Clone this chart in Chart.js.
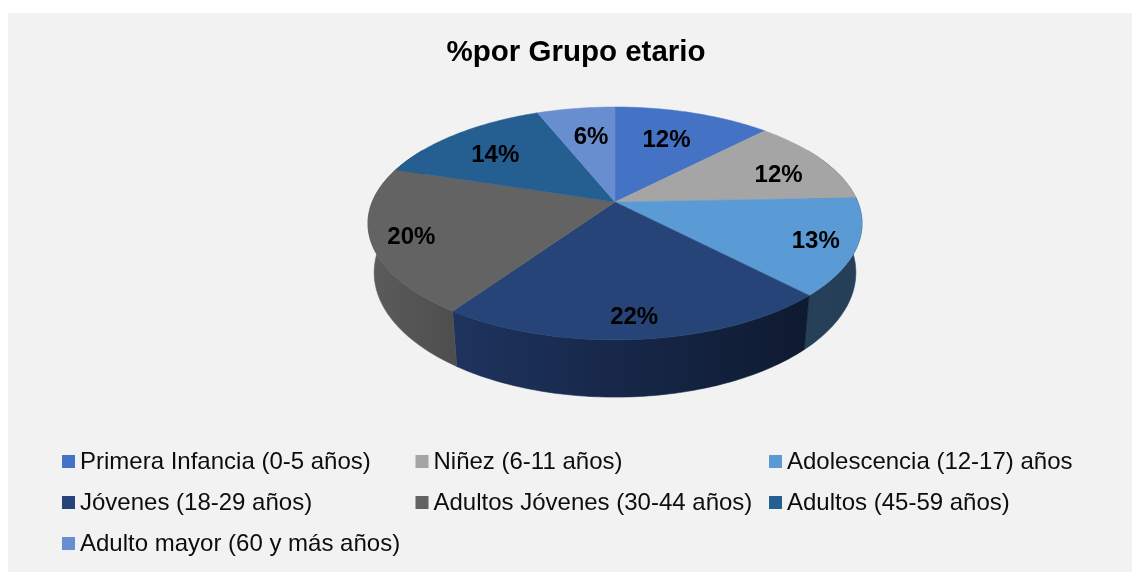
<!DOCTYPE html>
<html><head><meta charset="utf-8">
<style>html,body{margin:0;padding:0;background:#fff;overflow:hidden}canvas{display:block}</style>
<script src="https://cdn.jsdelivr.net/npm/chart.js@4"></script>
</head><body>
<canvas id="c" width="1132" height="572"></canvas>
<script>
const categories = ["Primera Infancia (0-5 años)","Niñez (6-11 años)","Adolescencia (12-17) años","Jóvenes (18-29 años)","Adultos Jóvenes (30-44 años)","Adultos (45-59 años)","Adulto mayor (60 y más años)"];
const values = [12.3,12.1,13.4,21.8,20.3,14.0,6.1];
const colors = ["#4472c4","#a5a5a5","#5b9bd5","#264478","#636363","#255e91","#698ed0"];
const wallLeft = ["#2a4577","#666","#264059","#1e335e","#5c5c5c","#173a5a","#41587f"];
const wallRight = ["#2a4577","#666","#243f57","#0e1a30","#4e4e4e","#173a5a","#41587f"];
const labelRadius = [0.676,0.75,0.84,0.857,0.846,0.708,0.678];
const labelNudgeX = [-4,6,0,-1,1,-4,4];
const labelNudgeY = [2,6,2,1,3,3,2];
const FONT = '"Liberation Sans", Arial, sans-serif';

/* projected disc: perspective tilt of the library's arc angles */
const V = {cx:615, cy:202, R:242.8, Q:112.5, p:-0.184, sx:0.975, sy:1.07, d:47.6};
function proj(theta, r, bottom){
  const u = r*Math.sin(theta), v = -r*Math.cos(theta), w = 1 + V.p*v;
  let x = V.R*u/w, y = V.Q*v/w;
  if (bottom){ x *= V.sx; y = y*V.sy + V.d; }
  return [V.cx + x, V.cy + y];
}
const toTheta = a => a + Math.PI/2;

const pie3d = {
  id:'pie3d',
  beforeDraw(chart){
    const ctx = chart.ctx;
    ctx.save();
    ctx.fillStyle = '#f2f2f2';
    ctx.fillRect(8,13,chart.width-8,chart.height-13);
    ctx.restore();
  },
  beforeDatasetsDraw(chart){
    const ctx = chart.ctx, arcs = chart.getDatasetMeta(0).data;
    const STEP = Math.PI/180;
    ctx.save();
    ctx.lineJoin = 'round';
    const lo = 60*STEP, hi = 300*STEP;
    arcs.forEach((arc,i)=>{
      const a = Math.max(toTheta(arc.startAngle), lo), b = Math.min(toTheta(arc.endAngle), hi);
      if (b <= a) return;
      const pts = [];
      for (let t=a; t<b; t+=STEP) pts.push(t);
      pts.push(b);
      ctx.beginPath();
      pts.forEach((t,k)=>{const q=proj(t,1,false); k?ctx.lineTo(q[0],q[1]):ctx.moveTo(q[0],q[1]);});
      pts.slice().reverse().forEach(t=>{const q=proj(t,1,true); ctx.lineTo(q[0],q[1]);});
      ctx.closePath();
      const xs = pts.map(t=>proj(t,1,false)[0]);
      const g = ctx.createLinearGradient(Math.min(...xs),0,Math.max(...xs),0);
      g.addColorStop(0,wallLeft[i]); g.addColorStop(1,wallRight[i]);
      ctx.fillStyle = g; ctx.strokeStyle = g; ctx.lineWidth = 0.6;
      ctx.fill(); ctx.stroke();
    });
    arcs.forEach((arc,i)=>{
      const a = toTheta(arc.startAngle), b = toTheta(arc.endAngle);
      ctx.beginPath();
      ctx.moveTo(V.cx,V.cy);
      for (let t=a; t<b; t+=STEP){const q=proj(t,1,false); ctx.lineTo(q[0],q[1]);}
      const q=proj(b,1,false); ctx.lineTo(q[0],q[1]);
      ctx.closePath();
      ctx.fillStyle = colors[i]; ctx.strokeStyle = colors[i]; ctx.lineWidth = 0.5;
      ctx.fill(); ctx.stroke();
    });
    ctx.fillStyle = '#000';
    ctx.font = 'bold 24px '+FONT;
    ctx.textAlign = 'center'; ctx.textBaseline = 'middle';
    arcs.forEach((arc,i)=>{
      const mid = toTheta((arc.startAngle+arc.endAngle)/2);
      const q = proj(mid,labelRadius[i],false);
      ctx.fillText(Math.round(values[i])+'%', q[0]+labelNudgeX[i], q[1]+labelNudgeY[i]);
    });
    ctx.restore();
    return false;
  },
  afterDraw(chart){
    const ctx = chart.ctx;
    ctx.save();
    ctx.font = '24px '+FONT;
    ctx.textAlign = 'left'; ctx.textBaseline = 'middle';
    categories.forEach((c,i)=>{
      const col = i%3, row = Math.floor(i/3);
      const x = 62 + col*353.5, y = 461 + row*41;
      ctx.fillStyle = colors[i];
      ctx.fillRect(x, y-6, 13, 13);
      ctx.fillStyle = '#0d0d0d';
      ctx.fillText(c, x+18, y+1);
    });
    ctx.restore();
  }
};

new Chart(document.getElementById('c'),{
  type:'pie',
  data:{labels:categories,datasets:[{data:values,backgroundColor:colors,borderWidth:0}]},
  options:{
    responsive:false,animation:false,
    layout:{padding:{left:20}},
    plugins:{
      legend:{display:false},tooltip:{enabled:false},
      title:{display:true,text:'%por Grupo etario',color:'#000',
        font:{family:FONT,size:29.5,weight:'bold'},padding:{top:35,bottom:10}}
    }
  },
  plugins:[pie3d]
});
</script>
</body></html>
